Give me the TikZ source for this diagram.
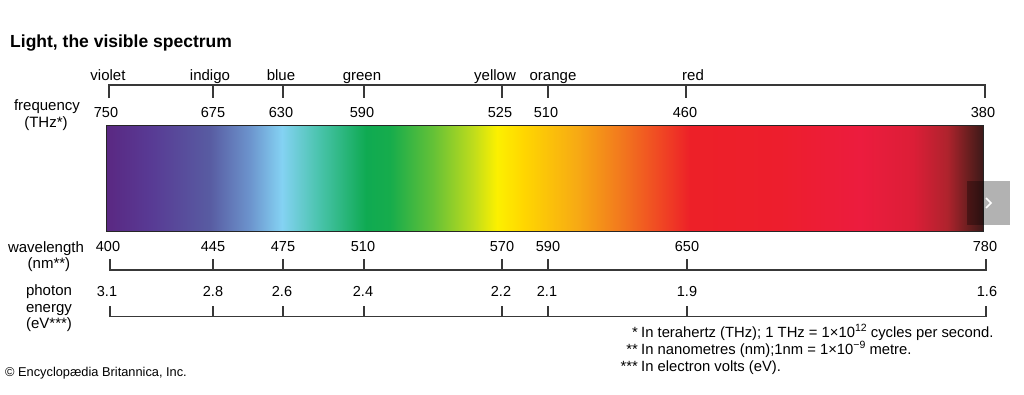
\documentclass[tikz,border=0pt]{standalone}
\usepackage{fontspec}
\setmainfont{Liberation Sans}
\usepackage{tikz}

\definecolor{sp01}{RGB}{90,40,130}
\definecolor{sp02}{RGB}{88,58,148}
\definecolor{sp03}{RGB}{88,92,162}
\definecolor{sp04}{RGB}{108,148,205}
\definecolor{sp05}{RGB}{132,210,243}
\definecolor{sp06}{RGB}{72,195,170}
\definecolor{sp07}{RGB}{15,170,82}
\definecolor{sp08}{RGB}{22,172,76}
\definecolor{sp09}{RGB}{100,193,55}
\definecolor{sp10}{RGB}{190,220,28}
\definecolor{sp11}{RGB}{252,240,0}
\definecolor{sp12}{RGB}{255,215,0}
\definecolor{sp13}{RGB}{247,170,20}
\definecolor{sp14}{RGB}{242,118,30}
\definecolor{sp15}{RGB}{240,75,35}
\definecolor{sp16}{RGB}{237,32,40}
\definecolor{sp17}{RGB}{237,30,45}
\definecolor{sp18}{RGB}{236,28,62}
\definecolor{sp19}{RGB}{220,30,55}
\definecolor{sp20}{RGB}{175,35,45}
\definecolor{sp21}{RGB}{100,30,30}
\definecolor{sp22}{RGB}{60,25,25}

\pgfdeclarehorizontalshading{visible}{100bp}{color(0bp)=(sp01); color(25bp)=(sp01);
  color(27.51bp)=(sp02); color(30.93bp)=(sp03); color(33.21bp)=(sp04); color(35.03bp)=(sp05);
  color(37.20bp)=(sp06); color(39.82bp)=(sp07); color(41.19bp)=(sp08); color(43.64bp)=(sp09);
  color(45.92bp)=(sp10); color(47.29bp)=(sp11); color(48.77bp)=(sp12); color(51.85bp)=(sp13);
  color(54.48bp)=(sp14); color(56.41bp)=(sp15); color(58.30bp)=(sp16); color(63.43bp)=(sp17);
  color(67.99bp)=(sp18); color(71.01bp)=(sp19); color(72.95bp)=(sp20); color(74.26bp)=(sp21);
  color(75bp)=(sp22); color(100bp)=(sp22)}

\newcommand{\raised}[1]{\raisebox{0.38em}{\fontsize{10.5}{12}\selectfont #1}}

\begin{document}
\begin{tikzpicture}[x=1pt, y=-1pt,
    scaleline/.style={line width=1.2pt, draw=black!78},
    heading/.style={font=\fontsize{17.5}{20}\selectfont\bfseries, anchor=base west, inner sep=0pt},
    hue/.style={font=\fontsize{15}{18}\selectfont, anchor=base, inner sep=0pt},
    num/.style={font=\fontsize{14.5}{17}\selectfont, anchor=base, inner sep=0pt},
    axislabel/.style={font=\fontsize{15}{18}\selectfont, anchor=base, inner sep=0pt},
    note/.style={font=\fontsize{14.8}{17}\selectfont, inner sep=0pt},
    spectrum/.style={draw=black!85, line width=0.8pt, shade, shading=visible,
      minimum width=877pt, minimum height=106pt, inner sep=0pt},
    navbutton/.style={fill=black, fill opacity=0.3, minimum width=43pt, minimum height=44pt, inner sep=0pt}]
  \useasboundingbox (0,0) rectangle (1024,394);

  \node[heading] (title) at (10,47.3) {Light, the visible spectrum};

  \foreach \x/\name in {108/violet,210/indigo,281/blue,362/green,495/yellow,553/orange,693/red}
    \node[hue] (hue-\name) at (\x,80.5) {\name};

  \draw[scaleline] (109,98) -- (109,85) -- (985,85) -- (985,98);
  \foreach \x in {213,283,364,502,548,686}
    \draw[scaleline] (\x,85) -- (\x,98);

  \node[axislabel] (freq1) at (47,110.7) {frequency};
  \node[axislabel] (freq2) at (46,127) {(THz*)};
  \foreach \x/\v in {106/750,213/675,281/630,362/590,500/525,546/510,685/460,983/380}
    \node[num] (f\v) at (\x,117) {\v};

  \node[spectrum] (bar) at (544.5,178) {};

  \node[axislabel] (wave1) at (46,252) {wavelength};
  \node[axislabel] (wave2) at (49,268) {(nm**)};
  \foreach \x/\v in {108/400,213/445,283/475,363/510,502/570,548/590,687/650,985/780}
    \node[num] (w\v) at (\x,251.5) {\v};

  \draw[scaleline] (110,259) -- (110,270) -- (986,270) -- (986,259);
  \foreach \x in {213,283,364,502,548,687}
    \draw[scaleline] (\x,259) -- (\x,270);

  \node[axislabel] (energy1) at (49,295.5) {photon};
  \node[axislabel] (energy2) at (49,312) {energy};
  \node[axislabel] (energy3) at (49,328) {(eV***)};
  \foreach \x/\v [count=\i] in {107/3.1,213/2.8,282/2.6,363/2.4,501/2.2,547/2.1,687/1.9,987/1.6}
    \node[num] (e\i) at (\x,296) {\v};

  \draw[scaleline] (110,306) -- (110,316.5) -- (986,316.5) -- (986,306);
  \foreach \x in {213,283,364,502,548,687}
    \draw[scaleline] (\x,306) -- (\x,316.5);

  \node[note, anchor=base east] (star1) at (638,337) {*};
  \node[note, anchor=base west] (note1) at (641,337) {In terahertz (THz); 1 THz = 1×10\raised{12} cycles per second.};
  \node[note, anchor=base east] (star2) at (638,354) {**};
  \node[note, anchor=base west] (note2) at (641,354) {In nanometres (nm);1nm = 1×10\raised{−9} metre.};
  \node[note, anchor=base east] (star3) at (638,371) {***};
  \node[note, anchor=base west] (note3) at (641,371) {In electron volts (eV).};

  \node[note, anchor=base west, font=\fontsize{12.8}{15}\selectfont] (credit) at (5,376) {© Encyclopædia Britannica, Inc.};

  \node[navbutton] (next) at (988.5,203) {};
  \draw[white, line width=1.6pt] ([xshift=-2.5pt,yshift=5pt]next.center) -- ([xshift=2.5pt]next.center) -- ([xshift=-2.5pt,yshift=-5pt]next.center);
\end{tikzpicture}
\end{document}
